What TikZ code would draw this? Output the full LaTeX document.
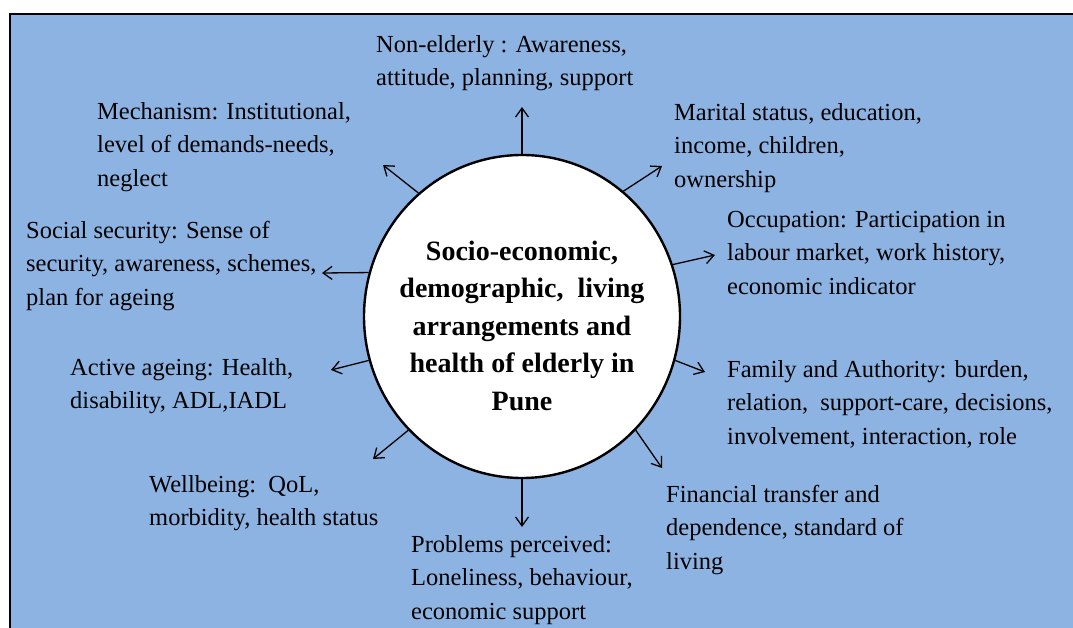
\documentclass[tikz,border=0pt]{standalone}
\usepackage{fontspec}
\setmainfont{Liberation Serif}
\usetikzlibrary{arrows.meta,shapes.geometric}
\definecolor{bgblue}{RGB}{141,179,226}
\tikzset{
  lbl/.style={font=\fontsize{24.5}{33.5}\selectfont, align=left, anchor=north west, inner sep=0pt, text=black},
  arr/.style={line width=1.3pt, -{Straight Barb[length=9pt,width=13pt,line width=1.3pt]}},
  hub/.style={ellipse, draw=black, line width=2.4pt, fill=white, minimum width=316pt, minimum height=323pt, inner sep=0pt}
}
\begin{document}
\begin{tikzpicture}[x=1pt,y=-1pt]
\useasboundingbox (0,0) rectangle (1073,628);
\clip (0,0) rectangle (1073,628);
\fill[bgblue] (9.5,14.5) rectangle (1090,650);
\draw[line width=2pt] (9.5,650) -- (9.5,14.5) -- (1090,14.5);

\node[hub] (c) at (522,316.5) {};
\node[font=\fontsize{28}{37.5}\selectfont\bfseries, align=center, anchor=north, inner sep=0pt] (ct) at (522,233.75)
  {\strut Socio-economic,\\demographic,\ \ living\\arrangements and\\health of elderly in\\Pune};

\node[lbl] (ne) at (376,28.55) {\strut Non-elderly : Awareness,\\attitude, planning, support};
\node[lbl] (mech) at (97,95.55) {\strut Mechanism: Institutional,\\level of demands-needs,\\neglect};
\node[lbl] (mar) at (674,96.55) {\strut Marital status, education,\\income, children,\\ownership};
\node[lbl] (soc) at (26,214.55) {\strut Social security: Sense of\\security, awareness, schemes,\\plan for ageing};
\node[lbl] (occ) at (727,203.55) {\strut Occupation: Participation in\\labour market, work history,\\economic indicator};
\node[lbl] (act) at (70,351.55) {\strut Active ageing: Health,\\disability, ADL,IADL};
\node[lbl] (fam) at (727,353.55) {\strut Family and Authority: burden,\\relation,\ \ support-care, decisions,\\involvement, interaction, role};
\node[lbl] (well) at (149,468.55) {\strut Wellbeing:\ \ QoL,\\morbidity, health status};
\node[lbl] (fin) at (666,478.55) {\strut Financial transfer and\\dependence, standard of\\living};
\node[lbl] (prob) at (411,528.55) {\strut Problems perceived:\\Loneliness, behaviour,\\economic support};

\coordinate (t1) at (522,107);
\coordinate (t2) at (383,165);
\coordinate (t3) at (662,166);
\coordinate (t4) at (715,255);
\coordinate (t5) at (322,273);
\coordinate (t6) at (331,370);
\coordinate (t7) at (705,372);
\coordinate (t8) at (662,468);
\coordinate (t9) at (522,527);
\coordinate (t10) at (373,459);

\draw[arr] (c.90) -- (t1);
\draw[arr] (c.130.4) -- (t2);
\draw[arr] (c.51.4) -- (t3);
\draw[arr] (c.19.6) -- (t4);
\draw[arr] (c.164.5) -- (t5);
\draw[arr] (c.196.9) -- (t6);
\draw[arr] (c.-16.8) -- (t7);
\draw[arr] (c.-45.6) -- (t8);
\draw[arr] (c.-90) -- (t9);
\draw[arr] (c.225.1) -- (t10);
\end{tikzpicture}
\end{document}
